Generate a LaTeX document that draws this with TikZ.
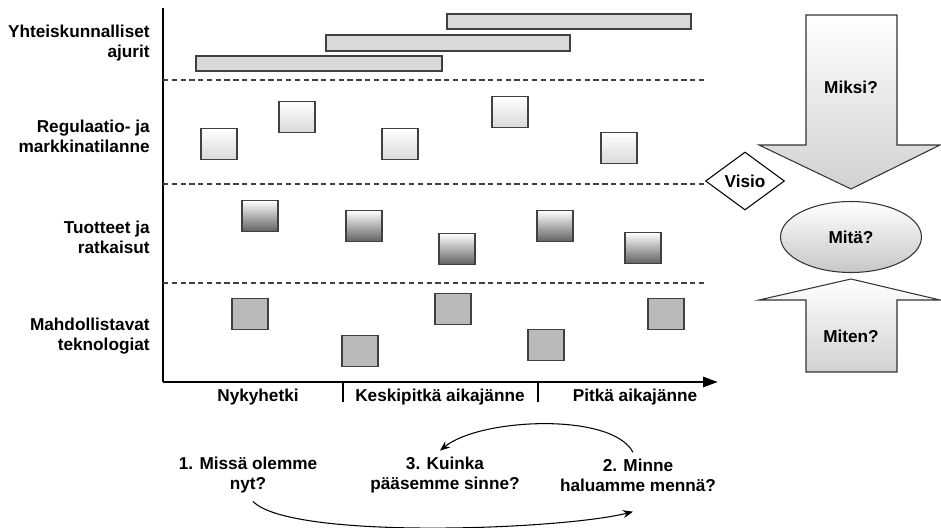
\documentclass[tikz,border=0pt]{standalone}
\usepackage{fontspec}
\setmainfont{Liberation Sans}
\usepackage{xcolor}
\usepackage{tikz}
\usetikzlibrary{arrows.meta,shapes.geometric}
\tikzset{
  axis/.style={line width=1.6pt,-{Triangle[length=3mm,width=2mm]}},
  lanesep/.style={black!75,line width=0.6pt,dash pattern=on 3pt off 2pt},
  bar/.style={draw=black!75,line width=0.8pt,fill=black!15},
  sq/.style={draw=black!75,line width=0.8pt,minimum width=0.72cm,minimum height=0.62cm,inner sep=0pt},
  sqlight/.style={sq,top color=white,bottom color=black!15},
  sqdark/.style={sq,top color=white,bottom color=black!62},
  sqflat/.style={sq,fill=black!27},
  lbl/.style={font=\fontsize{9.8}{11.4}\selectfont\bfseries,align=right,anchor=east,inner sep=0pt},
  ttxt/.style={font=\fontsize{9.8}{11.4}\selectfont\bfseries,inner sep=0pt},
  qtxt/.style={font=\fontsize{9.8}{11.4}\selectfont\bfseries,align=center,inner sep=0pt},
  bigarrow/.style={draw=black!80,line width=0.6pt,top color=white,bottom color=black!18},
  cyc/.style={line width=0.6pt,-{Stealth[length=2mm,width=1.6mm]}}
}

\begin{document}
\begin{tikzpicture}[x=0.02cm,y=-0.02cm]
\useasboundingbox (0,0) rectangle (941,528);
% axes and lanes
\coordinate (otop) at (163,8);
\coordinate (orig) at (163,382);
\coordinate (oend) at (718,382);
\draw[line width=1.6pt] (otop) -- (orig);
\draw[axis] (orig) -- (oend);
\foreach \y in {80,184,283} \draw[lanesep] (163,\y) -- (705,\y);
\foreach \x in {343,538} \draw[line width=0.6pt] (\x,382) -- (\x,402);
% row labels
\node[lbl] (lsoc) at (150,43) {Yhteiskunnalliset\\ajurit};
\node[lbl] (lreg) at (150,136) {Regulaatio- ja\\markkinatilanne};
\node[lbl] (lprod) at (150,237) {Tuotteet ja\\ratkaisut};
\node[lbl] (ltech) at (150,336) {Mahdollistavat\\teknologiat};
% drivers
\draw[bar] (447,14) rectangle (691,29);
\draw[bar] (326,35) rectangle (570,51);
\draw[bar] (196,56) rectangle (442,71);
% boxes
\foreach \x/\y [count=\i] in {219/144,297/117,400/144,510/112,619/148}
  \node[sqlight] (reg\i) at (\x,\y) {};
\foreach \x/\y [count=\i] in {260/216,364/226,457/249,555/226,643/248}
  \node[sqdark] (prod\i) at (\x,\y) {};
\foreach \x/\y [count=\i] in {250/314,453/309,360/351,546/345,666/314}
  \node[sqflat] (tech\i) at (\x,\y) {};
% time spans
\node[ttxt] (tnow) at (258,397) {Nykyhetki};
\node[ttxt] (tmid) at (440,397) {Keskipitkä aikajänne};
\node[ttxt] (tlong) at (635,397) {Pitkä aikajänne};
% right side
\draw[bigarrow] (806,15) -- (897,15) -- (897,145) -- (940,145) -- (851,189)
  -- (759,145) -- (806,145) -- cycle;
\node[ttxt] (miksi) at (851,87) {Miksi?};
\draw[bigarrow] (851,279) -- (940,300) -- (897,300) -- (897,372) -- (806,372)
  -- (806,300) -- (759,300) -- cycle;
\node[ttxt] (miten) at (851,336) {Miten?};
\node[ellipse,draw=black!80,line width=0.6pt,top color=white,bottom color=black!22,
  minimum width=2.82cm,minimum height=1.42cm,font=\fontsize{9.8}{11.4}\selectfont\bfseries]
  (mita) at (851,237) {Mitä?};
\node[diamond,draw=black,line width=0.6pt,fill=white,aspect=1.36,inner sep=0pt,
  minimum width=1.58cm,minimum height=1.16cm,font=\fontsize{9.8}{11.4}\selectfont\bfseries]
  (visio) at (745,181) {Visio};
% questions
\node[qtxt] (q1) at (248,475) {1. Missä olemme\\nyt?};
\node[qtxt] (q3) at (445,475) {3. Kuinka\\pääsemme sinne?};
\node[qtxt] (q2) at (638,475) {2. Minne\\haluamme mennä?};
\draw[cyc] ([xshift=-0.1cm,yshift=0.12cm]q2.north) .. controls (612,412) and (480,418) .. ([xshift=-0.1cm,yshift=0.12cm]q3.north);
\draw[cyc] ([xshift=0.1cm,yshift=-0.16cm]q1.south) .. controls (290,540) and (560,530) .. ([xshift=-0.1cm,yshift=-0.4cm]q2.south);
\end{tikzpicture}
\end{document}
